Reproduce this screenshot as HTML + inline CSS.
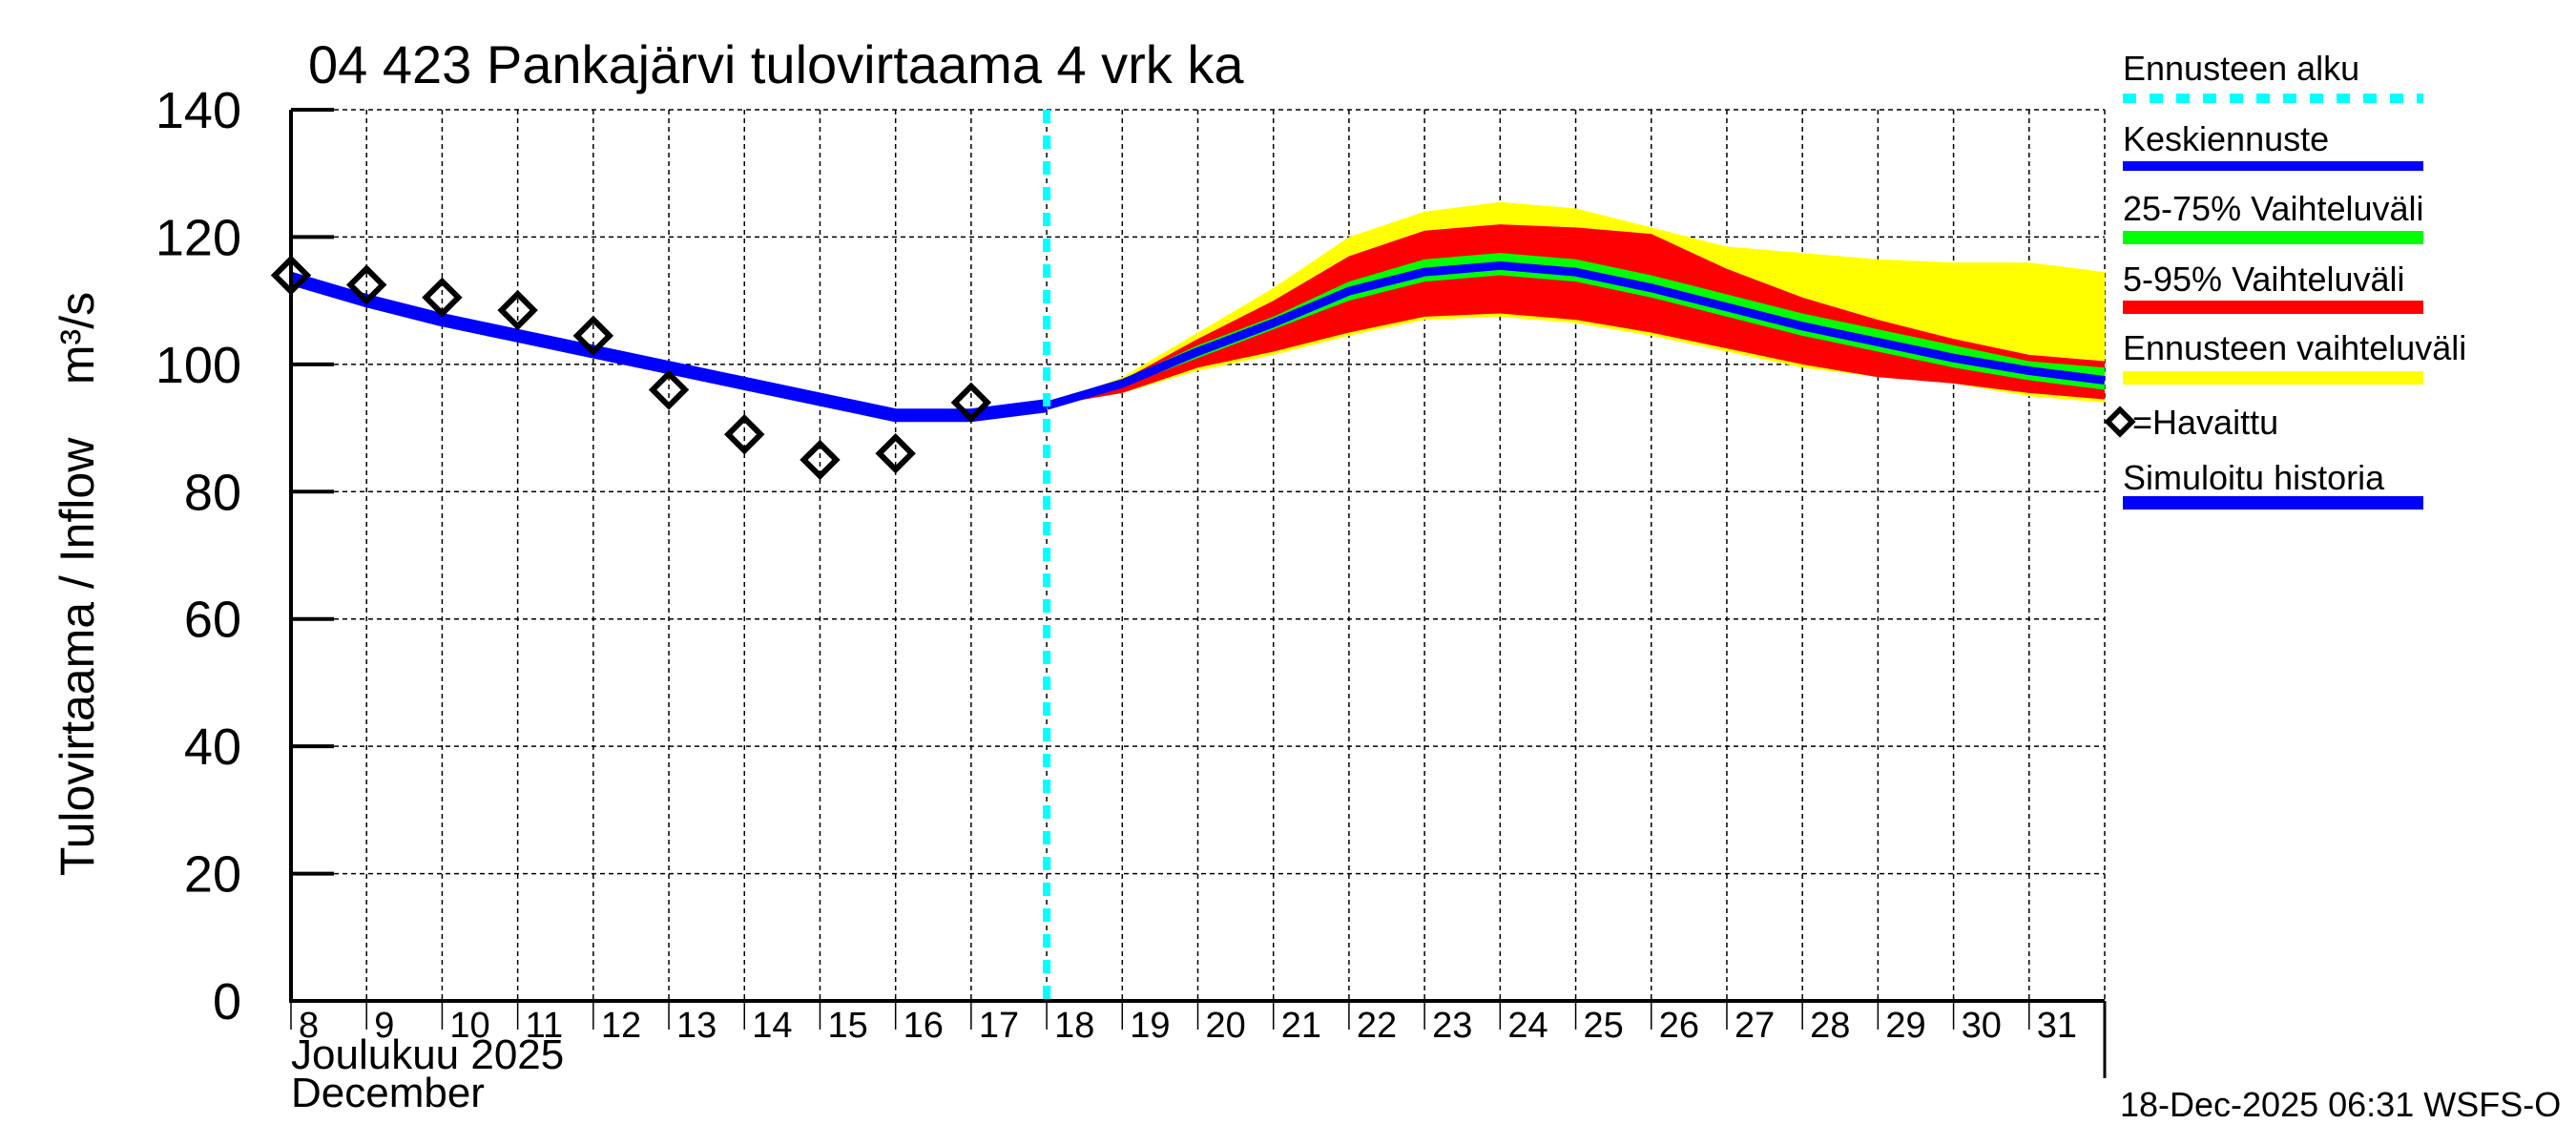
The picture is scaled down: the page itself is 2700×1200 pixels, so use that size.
<!DOCTYPE html>
<html><head><meta charset="utf-8"><style>
html,body{margin:0;padding:0;background:#fff;}
svg{display:block;font-family:"Liberation Sans",sans-serif;}
</style></head><body>
<svg id="chart" width="2700" height="1200" viewBox="0 0 2700 1200">
<text x="323" y="87" font-size="56">04 423 Pankajärvi tulovirtaama 4 vrk ka</text>
<text transform="translate(98,612) rotate(-90)" text-anchor="middle" font-size="50">Tulovirtaama / Inflow&#160;&#160;&#160;&#160;m³/s</text>
<g id="grid"></g>
<g id="bands"></g>
<g id="lines"></g>
<g id="axes"></g>
<text x="305" y="1120" font-size="44">Joulukuu  2025</text>
<text x="305" y="1160" font-size="44">December</text>
<text x="2222" y="1170" font-size="36">18-Dec-2025 06:31 WSFS-O</text>
<g>
<text x="2225" y="84" font-size="36">Ennusteen alku</text>
<line x1="2225" y1="103" x2="2540" y2="103" stroke="#00ffff" stroke-width="10" stroke-dasharray="14,14"/>
<text x="2225" y="158" font-size="36">Keskiennuste</text>
<line x1="2225" y1="174" x2="2540" y2="174" stroke="#0000ff" stroke-width="10"/>
<text x="2225" y="231" font-size="36">25-75% Vaihteluväli</text>
<line x1="2225" y1="249" x2="2540" y2="249" stroke="#00ff00" stroke-width="14"/>
<text x="2225" y="305" font-size="36">5-95% Vaihteluväli</text>
<line x1="2225" y1="322" x2="2540" y2="322" stroke="#ff0000" stroke-width="14"/>
<text x="2225" y="377" font-size="36">Ennusteen vaihteluväli</text>
<line x1="2225" y1="396" x2="2540" y2="396" stroke="#ffff00" stroke-width="14"/>
<rect x="2213" y="433" width="18" height="18" transform="rotate(45 2222 442)" fill="none" stroke="#000" stroke-width="5.5"/>
<text x="2235" y="455" font-size="36">=Havaittu</text>
<text x="2225" y="513" font-size="36">Simuloitu historia</text>
<line x1="2225" y1="527" x2="2540" y2="527" stroke="#0000ff" stroke-width="14"/>
</g>
</svg>
<script>
const histDays=[8,9,10,11,12,13,14,15,16,17,18];
const histSim=[113.5,110,107,104.5,102,99.5,97,94.5,92,92,93.5];
const obsDays=[8,9,10,11,12,13,14,15,16,17];
const obsVals=[114,112.5,110.5,108.5,104.5,96,89,85,86,94];
const fcDays=[18,19,20,21,22,23,24,25,26,27,28,29,30,31,32];
const fcMedian=[93.5,97,102,106.5,111.5,114.5,115.5,114.5,112,109,106,103.5,101,99,97.5];
const fc25=[93.5,96.5,101,105.5,110,113,114,113,110.5,107.5,104.5,102,99.5,97.5,96];
const fc75=[93.5,97.5,103,107.5,113,116.5,117.5,116.5,114,111,108,105.5,103,100.5,99.5];
const fc5=[93.5,95.5,99.5,102,105,107.5,108,107,105,102.5,100,98,97,95.5,94.5];
const fc95=[93.5,97.5,104,110,117,121,122,121.5,120.5,115,110.5,107,104,101.5,100.5];
const fcMin=[93.5,95.5,99,101.5,104.5,107,107.5,106.5,104.5,102,99.5,98,97,95,94];
const fcMax=[93.5,98,105,112,120,124,125.5,124.5,121.5,118.5,117.5,116.5,116,116,114.5];
const yTicks=[0,20,40,60,80,100,120,140];
const xTicks=[8,9,10,11,12,13,14,15,16,17,18,19,20,21,22,23,24,25,26,27,28,29,30,31];
const forecastStart=18;

const L=305,R=2206,T=115,B=1049,D0=8,D1=32,Y0=0,Y1=140;
const X=d=>L+(d-D0)*(R-L)/(D1-D0);
const Y=v=>B-(v-Y0)*(B-T)/(Y1-Y0);
const NS="http://www.w3.org/2000/svg";
function mk(tag,attrs,parent){const e=document.createElementNS(NS,tag);for(const k in attrs)e.setAttribute(k,attrs[k]);parent.appendChild(e);return e;}
const grid=document.getElementById('grid'),bands=document.getElementById('bands'),lines=document.getElementById('lines'),axes=document.getElementById('axes');
yTicks.forEach(v=>{
  const g=mk('line',{x1:L,x2:R,y1:Y(v),y2:Y(v),stroke:'#000','stroke-width':1.5,'stroke-dasharray':'5,4'},grid);
  
  
  const t=mk('line',{x1:L,x2:L+45,y1:Y(v),y2:Y(v),stroke:'#000','stroke-width':4},axes);
  
  
  const lb=mk('text',{x:253,y:Y(v)+19,'text-anchor':'end','font-size':54},axes);
  lb.textContent=v;
  
  
});
xTicks.forEach(d=>{
  const g=mk('line',{x1:X(d),x2:X(d),y1:T,y2:B,stroke:'#000','stroke-width':1.5,'stroke-dasharray':'5,4'},grid);
  
  
  const t=mk('line',{x1:X(d),x2:X(d),y1:B,y2:B+30,stroke:'#000','stroke-width':1.5},axes);
  
  
  const lb=mk('text',{x:X(d)+8,y:B+38,'font-size':38},axes);
  lb.textContent=d;
  
  
});
const gr=mk('line',{x1:R,x2:R,y1:T,y2:B,stroke:'#000','stroke-width':1.5,'stroke-dasharray':'5,4'},grid);


function band(lo,hi,color,name){
  let pts=fcDays.map((d,i)=>X(d)+','+Y(hi[i]));
  pts=pts.concat(fcDays.map((d,i)=>X(d)+','+Y(lo[i])).reverse());
  const p=mk('polygon',{points:pts.join(' '),fill:color},bands);
  
  
}
band(fcMin,fcMax,'#ffff00','forecast-range-band');
band(fc5,fc95,'#ff0000','band-5-95');
band(fc25,fc75,'#00ff00','band-25-75');
const sim=mk('polyline',{points:histDays.map((d,i)=>X(d)+','+Y(histSim[i])).join(' '),fill:'none',stroke:'#0000ff','stroke-width':14,'stroke-linejoin':'round'},lines);


const med=mk('polyline',{points:fcDays.map((d,i)=>X(d)+','+Y(fcMedian[i])).join(' '),fill:'none',stroke:'#0000ff','stroke-width':9,'stroke-linejoin':'round'},lines);


const fs=mk('line',{x1:X(forecastStart),x2:X(forecastStart),y1:T,y2:B,stroke:'#00ffff','stroke-width':8,'stroke-dasharray':'14,13'},lines);


obsDays.forEach((d,i)=>{
  const cx=X(d),cy=Y(obsVals[i]);
  const m=mk('rect',{x:cx-12,y:cy-12,width:24,height:24,transform:`rotate(45 ${cx} ${cy})`,fill:'none',stroke:'#000','stroke-width':6},lines);
  
  
});
const ay=mk('line',{x1:L,x2:L,y1:T,y2:B+2,stroke:'#000','stroke-width':4},axes);


const ax=mk('line',{x1:L-2,x2:R,y1:B,y2:B,stroke:'#000','stroke-width':4},axes);


const ar=mk('line',{x1:R,x2:R,y1:B,y2:1130,stroke:'#000','stroke-width':3},axes);


</script>
</body></html>
